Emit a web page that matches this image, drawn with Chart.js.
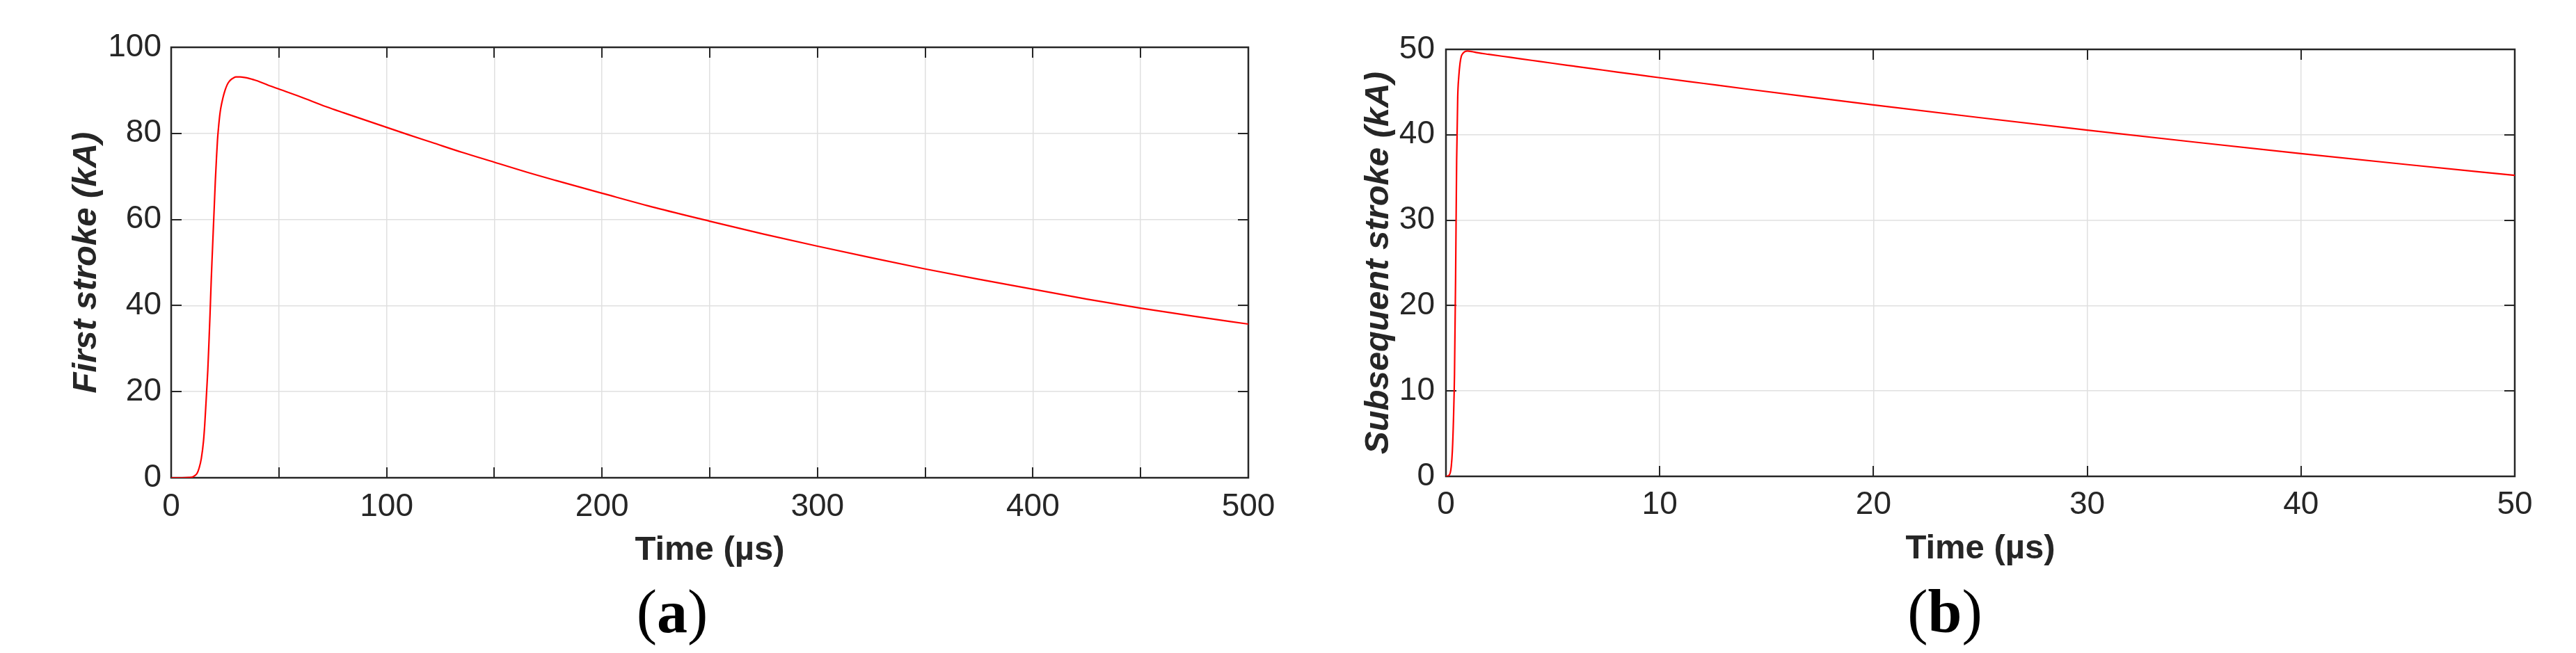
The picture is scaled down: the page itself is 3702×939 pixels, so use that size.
<!DOCTYPE html>
<html><head><meta charset="utf-8">
<script src="https://cdn.jsdelivr.net/npm/chart.js@4.4.0/dist/chart.umd.min.js"></script>
<style>
html,body{margin:0;padding:0;background:#fff;}
#wrap{position:relative;width:3702px;height:939px;overflow:hidden;background:#fff;}
canvas{position:absolute;top:0;}
.sub{position:absolute;top:836px;width:240px;text-align:center;font-family:"Liberation Serif","Times New Roman",serif;font-size:88px;line-height:88px;color:#000;}
</style></head><body>
<div id="wrap">
<canvas id="ca" width="1851" height="939" style="left:0"></canvas>
<canvas id="cb" width="1851" height="939" style="left:1851px"></canvas>
<div class="sub" style="left:846px">(<b>a</b>)</div>
<div class="sub" style="left:2675px">(<b>b</b>)</div>
</div>
<script>
// ---- data ----
const firstTime = [0, 5, 8, 10, 11, 12, 13, 14, 15, 15.6, 16.4, 17, 17.5, 18, 18.6, 19, 19.5, 20, 20.5, 21, 21.5, 22, 22.5, 23, 24, 25, 26, 27, 28, 29, 30, 32, 34, 36, 38, 40, 45, 50, 60, 72, 80, 90, 100, 110, 121, 135, 150, 165, 179, 200, 225, 250, 275, 300, 325, 350, 375, 400, 425, 450, 475, 500];
const firstCurrent = [0, 0, 0.05, 0.2, 0.5, 1.0, 2.3, 4.5, 8.5, 12.5, 19.5, 25, 31, 37.5, 46, 51, 57, 63, 69, 74, 78.5, 81.5, 84, 85.8, 88.2, 90, 91.3, 92.1, 92.6, 92.9, 93.1, 93.1, 93.0, 92.8, 92.5, 92.2, 91.2, 90.3, 88.5, 86.2, 84.8, 83.1, 81.4, 79.7, 77.9, 75.6, 73.3, 71.0, 69.0, 66.1, 62.7, 59.6, 56.6, 53.8, 51.1, 48.5, 46.1, 43.8, 41.5, 39.4, 37.5, 35.7];
const subTime = [0, 0.1, 0.2, 0.25, 0.3, 0.35, 0.4, 0.45, 0.5, 0.55, 0.6, 0.66, 0.72, 0.8, 0.9, 1.0, 1.2, 1.5, 2, 3, 4, 5, 6, 7, 8, 9, 10, 12, 14, 17, 20, 25, 30, 35, 40, 45, 50];
const subCurrent = [0, 0.05, 0.4, 1.2, 3, 6.5, 12, 23, 37, 44.4, 46.8, 48.4, 49.2, 49.55, 49.75, 49.8, 49.75, 49.6, 49.42, 49.07, 48.72, 48.37, 48.03, 47.69, 47.35, 47.02, 46.68, 46.03, 45.38, 44.43, 43.50, 42.0, 40.55, 39.15, 37.8, 36.5, 35.25];
const firstXLabels = [0, 100, 200, 300, 400, 500];
const firstYLabels = [0, 20, 40, 60, 80, 100];
const subXLabels = [0, 10, 20, 30, 40, 50];
const subYLabels = [0, 10, 20, 30, 40, 50];
const firstYTitle = 'First stroke (kA)';
const subYTitle = 'Subsequent stroke (kA)';
const xTitle = 'Time (\u00b5s)';

const AX = '#262626';
const framePlugin = {
  id: 'frame',
  beforeDatasetsDraw(chart) {
    const {ctx, chartArea: {left, right, top, bottom}, scales: {x, y}} = chart;
    const tl = 15;
    ctx.save();
    ctx.strokeStyle = AX;
    ctx.lineWidth = 2;
    ctx.beginPath();
    x.ticks.forEach(t => {
      const px = Math.round(x.getPixelForValue(t.value));
      ctx.moveTo(px, bottom); ctx.lineTo(px, bottom - tl);
      ctx.moveTo(px, top); ctx.lineTo(px, top + tl);
    });
    y.ticks.forEach(t => {
      const py = Math.round(y.getPixelForValue(t.value));
      ctx.moveTo(left, py); ctx.lineTo(left + tl, py);
      ctx.moveTo(right, py); ctx.lineTo(right - tl, py);
    });
    ctx.stroke();
    ctx.lineWidth = 2.5;
    ctx.strokeRect(left, top, right - left, bottom - top);
    ctx.restore();
  }
};

function makeChart(id, xs, ys, cfg) {
  const data = xs.map((t, i) => ({x: t, y: ys[i]}));
  return new Chart(document.getElementById(id), {
    type: 'line',
    data: {datasets: [{data, borderColor: '#ff0000', borderWidth: 2.2, pointRadius: 0, fill: false, tension: 0, cubicInterpolationMode: 'monotone'}]},
    options: {
      responsive: false, animation: false, devicePixelRatio: 1,
      layout: {padding: {top: cfg.top, right: cfg.right, left: 0, bottom: 0}},
      plugins: {legend: {display: false}, tooltip: {enabled: false}},
      scales: {
        x: {
          type: 'linear', min: cfg.xMin, max: cfg.xMax,
          afterFit: s => { s.height = cfg.xh; },
          afterBuildTicks: s => { s.ticks = cfg.xGrid.map(v => ({value: v})); },
          ticks: {autoSkip: false, maxRotation: 0, padding: cfg.xPad, color: AX,
            font: {family: '"Liberation Sans", Arial, sans-serif', size: 46},
            callback: v => cfg.xLabels.includes(v) ? String(v) : ''},
          grid: {color: '#e0e0e0', lineWidth: 1.5, drawTicks: false},
          border: {display: false},
          title: {display: true, text: xTitle, color: AX,
            font: {family: '"Liberation Sans", Arial, sans-serif', size: 49, weight: 'bold'},
            padding: {top: 0, bottom: cfg.xTitlePad}}
        },
        y: {
          type: 'linear', min: cfg.yMin, max: cfg.yMax,
          afterFit: s => { s.width = cfg.yw; },
          afterBuildTicks: s => { s.ticks = cfg.yLabels.map(v => ({value: v})); },
          ticks: {autoSkip: false, padding: cfg.yPad, color: AX,
            font: {family: '"Liberation Sans", Arial, sans-serif', size: 46},
            callback: v => String(v)},
          grid: {color: '#e0e0e0', lineWidth: 1.5, drawTicks: false},
          border: {display: false},
          title: {display: true, text: cfg.yTitle, color: AX,
            font: {family: '"Liberation Sans", Arial, sans-serif', size: 49, weight: 'bold', style: 'italic'},
            padding: {top: cfg.yTitlePad, bottom: 0}}
        }
      }
    },
    plugins: [framePlugin]
  });
}

const firstXGrid = [];
for (let v = 0; v <= 500; v += 50) firstXGrid.push(v);

makeChart('ca', firstTime, firstCurrent, {
  top: 68, right: 57, xh: 252, yw: 246,
  xMin: 0, xMax: 500, yMin: 0, yMax: 100,
  xGrid: firstXGrid, xLabels: firstXLabels, yLabels: firstYLabels,
  xPad: 15, yPad: 14, xTitlePad: 118.6, yTitlePad: 94.6, yTitle: firstYTitle
});
makeChart('cb', subTime, subCurrent, {
  top: 71, right: 88, xh: 254, yw: 227,
  xMin: 0, xMax: 50, yMin: 0, yMax: 50,
  xGrid: subXLabels, xLabels: subXLabels, yLabels: subYLabels,
  xPad: 14, yPad: 16, xTitlePad: 120.6, yTitlePad: 100.6, yTitle: subYTitle
});
</script>
</body></html>
